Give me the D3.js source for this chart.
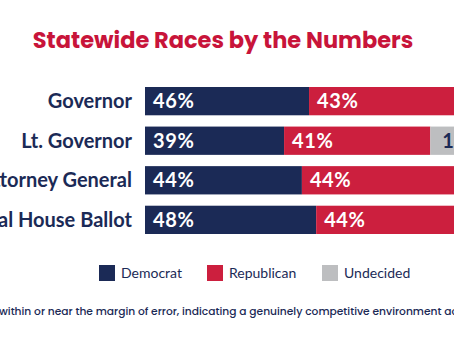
<!DOCTYPE html>
<html>
<head>
<meta charset="utf-8">
<script src="https://cdn.jsdelivr.net/npm/d3@7"></script>
<style>
  html, body { margin: 0; padding: 0; background: #fff; overflow: hidden; }
  svg { display: block; }
</style>
</head>
<body>
<main></main>
<script>
// data
var races = ["Governor", "Lt. Governor", "Attorney General", "Federal House Ballot"];
var democrat = [46, 39, 44, 48];
var republican = [43, 41, 44, 44];
var undecided = [11, 18, 12, 8];
var seriesNames = ["Democrat", "Republican", "Undecided"];
var seriesColors = ["#1b2a56", "#cc1f3e", "#bdbec0"];
var labelColors = ["#fff", "#fff", "#1b2a56"];

var W = 454, H = 341;
var navy = "#1b2a56";

var svg = d3.select("main")
  .append("svg")
    .attr("width", W)
    .attr("height", H);

// title
svg.append("text")
  .attr("x", 223)
  .attr("y", 48)
  .attr("text-anchor", "middle")
  .attr("font-family", "Poppins, Inter, 'Open Sans', sans-serif")
  .attr("font-weight", 700)
  .attr("font-size", 22.5)
  .attr("fill", "#c8143a")
  .text("Statewide Races by the Numbers");

var x = d3.scaleLinear().domain([0, 100]).range([145, 145 + 356.6]);
var y = d3.scaleBand().domain(races).range([87, 234]).paddingInner(0.285).paddingOuter(0);

var rows = races.map(function(r, i) {
  return { race: r, values: [democrat[i], republican[i], undecided[i]] };
});

var stack = d3.stack().keys([0, 1, 2]).value(function(d, k) { return d.values[k]; });
var layers = stack(rows);

var g = svg.selectAll("g.layer")
  .data(layers)
  .enter().append("g")
    .attr("class", "layer");

g.selectAll("rect")
  .data(function(d) { return d; })
  .enter().append("rect")
    .attr("x", function(d) { return x(d[0]); })
    .attr("y", function(d) { return y(d.data.race); })
    .attr("width", function(d) { return x(d[1]) - x(d[0]); })
    .attr("height", y.bandwidth())
    .attr("fill", function(d) { return seriesColors[d3.select(this.parentNode).datum().key]; });

g.selectAll("text")
  .data(function(d) { return d.map(function(s) { s.key = d.key; return s; }); })
  .enter().append("text")
    .attr("x", function(d) { return x(d[0]) + (d.key === 2 ? 12 : 8); })
    .attr("y", function(d) { return y(d.data.race) + y.bandwidth() / 2; })
    .attr("dy", "0.36em")
    .attr("font-family", "Lato, sans-serif")
    .attr("font-weight", 700)
    .attr("font-size", 20)
    .attr("letter-spacing", 0.6)
    .attr("fill", function(d) { return labelColors[d.key]; })
    .text(function(d) { return (d[1] - d[0]) + "%"; });

// category labels
svg.selectAll("text.cat")
  .data(races)
  .enter().append("text")
    .attr("class", "cat")
    .attr("x", 132)
    .attr("y", function(d) { return y(d) + y.bandwidth() / 2; })
    .attr("dy", "0.36em")
    .attr("text-anchor", "end")
    .attr("font-family", "Lato, sans-serif")
    .attr("font-weight", 700)
    .attr("font-size", 20)
    .attr("fill", navy)
    .text(function(d) { return d; });

// legend
var legendX = [99, 207, 322];
var lg = svg.selectAll("g.legend")
  .data(seriesNames)
  .enter().append("g")
    .attr("class", "legend")
    .attr("transform", function(d, i) { return "translate(" + legendX[i] + ",265)"; });
lg.append("rect")
  .attr("width", 16)
  .attr("height", 16)
  .attr("fill", function(d, i) { return seriesColors[i]; });
lg.append("text")
  .attr("x", 22)
  .attr("y", 13)
  .attr("font-family", "Lato, sans-serif")
  .attr("font-size", 14)
  .attr("fill", navy)
  .text(function(d) { return d; });

// footnote
svg.append("text")
  .attr("x", -1)
  .attr("y", 315)
  .attr("font-family", "Poppins, 'Noto Sans', sans-serif")
  .attr("font-weight", 500)
  .attr("font-size", 10.7)
  .attr("fill", navy)
  .text("within or near the margin of error, indicating a genuinely competitive environment across the state.");
</script>
</body>
</html>
